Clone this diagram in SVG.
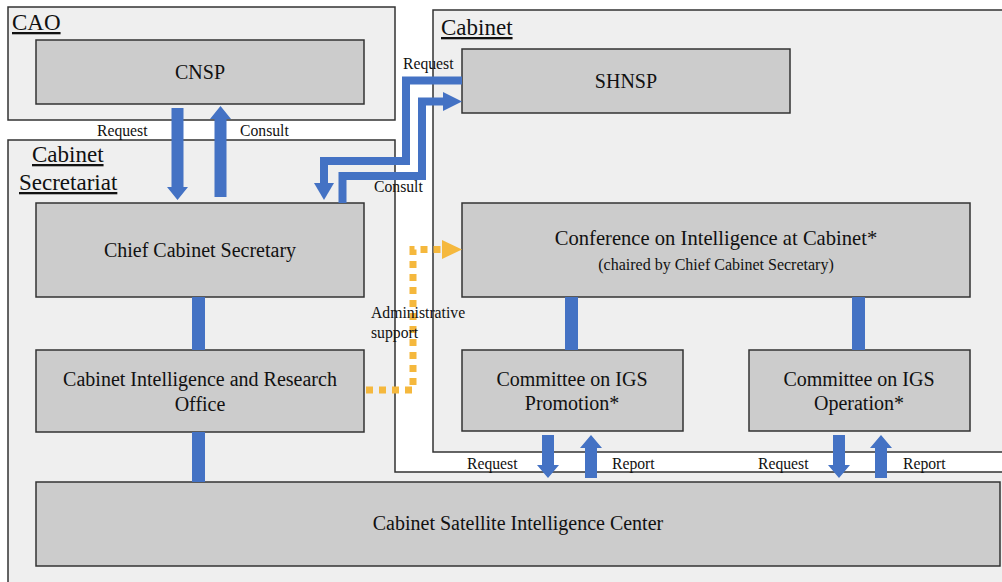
<svg xmlns="http://www.w3.org/2000/svg" xmlns:xlink="http://www.w3.org/1999/xlink" width="1002" height="582" viewBox="0 0 1002 582">
<style>
.grp{fill:#efefef;stroke:#333;stroke-width:1.5}
.box{fill:#cccccc;stroke:#333;stroke-width:1.5}
.t{font-family:"Liberation Serif","Times New Roman",serif;fill:#111;text-anchor:middle}
.big{font-size:20px}
.title{font-family:"Liberation Serif","Times New Roman",serif;fill:#111;font-size:23px;text-decoration:underline}
.lbl{font-family:"Liberation Serif","Times New Roman",serif;fill:#111;font-size:15.7px}
.blue{fill:#4472c4}
.bline{fill:none;stroke:#4472c4;stroke-width:8;stroke-linejoin:miter}
.yline{fill:none;stroke:#f5b83d;stroke-width:7;stroke-dasharray:7 6}
</style>
<defs>
<polygon id="darr" points="-6,0 6,0 6,30 11,30 0,43 -11,30 -6,30"/>
<polygon id="uarr" points="-6,43 6,43 6,13 11,13 0,0 -11,13 -6,13"/>
</defs>
<rect width="1002" height="582" fill="#fff"/>
<g id="cao">
<rect class="grp" x="8" y="7" width="387" height="113"/>
<text class="title" x="12" y="30">CAO</text>
</g>
<g id="cabinet-secretariat">
<path class="grp" d="M8,140 H395 V472 H1010 V590 H8 Z"/>
<text class="title" x="32" y="162">Cabinet</text>
<text class="title" x="19" y="190">Secretariat</text>
</g>
<g id="cabinet">
<rect class="grp" x="433" y="10" width="580" height="442"/>
<text class="title" x="441" y="35">Cabinet</text>
</g>
<g id="cnsp">
<rect class="box" x="36" y="40" width="328" height="64"/>
<text class="t big" x="200" y="79">CNSP</text>
</g>
<g id="shnsp">
<rect class="box" x="462" y="49" width="328" height="64"/>
<text class="t big" x="626" y="88">SHNSP</text>
</g>
<g id="chief-cabinet-secretary">
<rect class="box" x="36" y="203" width="328" height="94"/>
<text class="t big" x="200" y="257">Chief Cabinet Secretary</text>
</g>
<g id="ciro">
<rect class="box" x="36" y="350" width="328" height="82"/>
<text class="t big" x="200" y="386">Cabinet Intelligence and Research</text>
<text class="t big" x="200" y="411">Office</text>
</g>
<g id="conference">
<rect class="box" x="462" y="203" width="508" height="94"/>
<text class="t" x="716" y="245" font-size="20.6">Conference on Intelligence at Cabinet*</text>
<text class="t" x="716" y="270" font-size="16">(chaired by Chief Cabinet Secretary)</text>
</g>
<g id="committee-promotion">
<rect class="box" x="462" y="350" width="221" height="81"/>
<text class="t big" x="572" y="386">Committee on IGS</text>
<text class="t big" x="572" y="410">Promotion*</text>
</g>
<g id="committee-operation">
<rect class="box" x="749" y="350" width="221" height="81"/>
<text class="t big" x="859" y="386">Committee on IGS</text>
<text class="t big" x="859" y="410">Operation*</text>
</g>
<g id="satellite-center">
<rect class="box" x="36" y="482" width="964" height="84"/>
<text class="t big" x="518" y="530">Cabinet Satellite Intelligence Center</text>
</g>
<g id="connectors">
<rect class="blue" x="192" y="297" width="13" height="53"/>
<rect class="blue" x="192" y="432" width="13" height="50"/>
<rect class="blue" x="565" y="297" width="13" height="53"/>
<rect class="blue" x="852" y="297" width="13" height="53"/>
<polygon class="blue" points="171.5,108 183.5,108 183.5,187 188,187 177.5,200 167,187 171.5,187"/>
<polygon class="blue" points="214.5,197 226.5,197 226.5,119 231,119 220.5,106 210,119 214.5,119"/>
<polyline class="bline" points="462,80.5 406,80.5 406,161 324,161 324,186"/>
<polygon class="blue" points="314,183 334,183 324,200"/>
<polyline class="bline" points="342.5,203 342.5,176 422,176 422,101.5 444,101.5"/>
<polygon class="blue" points="443,92 443,111 462,101.5"/>
<polyline class="yline" points="366,390 413,390 413,249.5 442,249.5"/>
<polygon fill="#f5b83d" points="442,240 442,259 462,249.5"/>
<use href="#darr" xlink:href="#darr" class="blue" x="548" y="435"/>
<use href="#uarr" xlink:href="#uarr" class="blue" x="591" y="435"/>
<use href="#darr" xlink:href="#darr" class="blue" x="839" y="435"/>
<use href="#uarr" xlink:href="#uarr" class="blue" x="881" y="435"/>
<text class="lbl" x="97" y="136">Request</text>
<text class="lbl" x="240" y="136">Consult</text>
<text class="lbl" x="403" y="69">Request</text>
<text class="lbl" x="374" y="192">Consult</text>
<text class="lbl" x="371" y="318">Administrative</text>
<text class="lbl" x="371" y="338">support</text>
<text class="lbl" x="467" y="469">Request</text>
<text class="lbl" x="612" y="469">Report</text>
<text class="lbl" x="758" y="469">Request</text>
<text class="lbl" x="903" y="469">Report</text>
</g>
</svg>
